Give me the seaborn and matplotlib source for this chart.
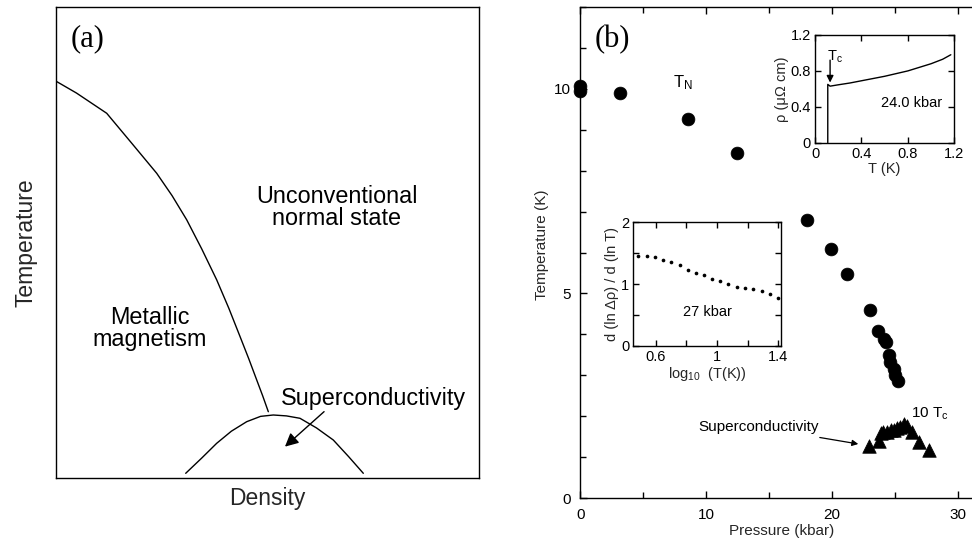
import matplotlib
matplotlib.use("Agg")
import matplotlib.pyplot as plt
from matplotlib.ticker import MultipleLocator
import numpy as np
import pandas as pd
import seaborn as sns

# ---------------- data ----------------
# (a) schematic phase diagram, normalised axes coordinates
mag_density = [0.0, 0.049, 0.1205, 0.180, 0.2386, 0.275, 0.3095, 0.345, 0.3803,
               0.409, 0.4354, 0.456, 0.4749, 0.489, 0.5023]
mag_temp = [0.8435, 0.818, 0.775, 0.711, 0.6476, 0.600, 0.5488, 0.487, 0.4214,
            0.361, 0.3011, 0.254, 0.2087, 0.175, 0.1414]
sc_density = [0.3071, 0.345, 0.3803, 0.415, 0.4512, 0.484, 0.514, 0.545, 0.5771,
              0.616, 0.6558, 0.692, 0.7267]
sc_temp = [0.0106, 0.043, 0.0743, 0.100, 0.1202, 0.1315, 0.1344, 0.1325, 0.1274,
           0.107, 0.0813, 0.046, 0.0106]

# (b) Neel temperature vs pressure
tn_pressure = [0.0, 0.0, 3.18, 8.6, 12.5, 18.0, 19.95, 21.2, 23.0, 23.7, 24.15,
               24.3, 24.55, 24.65, 24.9, 25.05, 25.25]
tn_temp = [10.08, 9.95, 9.89, 9.26, 8.44, 6.80, 6.08, 5.48, 4.59, 4.09, 3.89,
           3.81, 3.49, 3.33, 3.16, 3.00, 2.86]

# (b) 10 x superconducting Tc vs pressure
tc_pressure = [22.95, 23.75, 23.87, 24.1, 24.4, 24.66, 24.92, 25.2, 25.45, 25.7,
               25.97, 26.37, 26.9, 27.7]
tc10_temp = [1.28, 1.39, 1.58, 1.61, 1.62, 1.66, 1.66, 1.71, 1.74, 1.80, 1.76,
             1.62, 1.36, 1.17]

# inset: resistivity at 24.0 kbar
rho_T = [0.11, 0.11, 0.13, 0.2, 0.3, 0.4, 0.5, 0.6, 0.7, 0.8, 0.9, 1.0, 1.1, 1.17]
rho_val = [0.0, 0.65, 0.63, 0.645, 0.665, 0.69, 0.715, 0.74, 0.77, 0.80, 0.84,
           0.88, 0.93, 0.98]

# inset: logarithmic derivative at 27 kbar
log_T = [0.486, 0.545, 0.597, 0.650, 0.702, 0.755, 0.810, 0.860, 0.912, 0.969,
         1.022, 1.074, 1.129, 1.184, 1.238, 1.293, 1.345, 1.400]
dlog = [1.459, 1.454, 1.432, 1.389, 1.357, 1.303, 1.227, 1.183, 1.141, 1.076,
        1.044, 1.000, 0.956, 0.935, 0.914, 0.886, 0.833, 0.778]

# ---------------- style ----------------
sns.set_theme(style="ticks")
plt.rcParams["font.family"] = ["Liberation Sans", "DejaVu Sans"]
plt.rcParams["mathtext.fontset"] = "custom"
plt.rcParams["mathtext.rm"] = "Liberation Sans"
plt.rcParams["mathtext.it"] = "Liberation Sans:italic"
plt.rcParams["mathtext.default"] = "regular"
plt.rcParams["axes.edgecolor"] = "black"
plt.rcParams["axes.linewidth"] = 1.0
plt.rcParams["xtick.color"] = "black"
plt.rcParams["ytick.color"] = "black"
plt.rcParams["text.color"] = "black"

W, H = 972, 544
fig = plt.figure(figsize=(W / 100, H / 100), dpi=100)


def px_axes(left, top, right, bottom):
    return fig.add_axes([left / W, 1 - bottom / H, (right - left) / W, (bottom - top) / H])


# ---------------- panel (a) ----------------
ax_a = px_axes(55.7, 7.3, 479, 478.3)
mag_df = pd.DataFrame({"density": mag_density, "temperature": mag_temp})
sc_df = pd.DataFrame({"density": sc_density, "temperature": sc_temp})
sns.lineplot(data=mag_df, x="density", y="temperature", sort=False, estimator=None,
             color="black", lw=1.0, ax=ax_a)
sns.lineplot(data=sc_df, x="density", y="temperature", sort=False, estimator=None,
             color="black", lw=1.0, ax=ax_a)
ax_a.set_xlim(0, 1)
ax_a.set_ylim(0, 1)
ax_a.set_xticks([])
ax_a.set_yticks([])
ax_a.set_xlabel("Density", fontsize=16.5, labelpad=6)
ax_a.set_ylabel("Temperature", fontsize=16.5, labelpad=13)
ax_a.text(0.076, 0.933, "(a)", transform=ax_a.transAxes, fontsize=22,
          family="Liberation Serif", ha="center", va="center")
ax_a.text(0.664, 0.575, "Unconventional\nnormal state", transform=ax_a.transAxes,
          fontsize=16.8, ha="center", va="center", linespacing=0.95)
ax_a.text(0.223, 0.318, "Metallic\nmagnetism", transform=ax_a.transAxes,
          fontsize=16.8, ha="center", va="center", linespacing=0.95)
ax_a.text(0.75, 0.17, "Superconductivity", transform=ax_a.transAxes,
          fontsize=16.8, ha="center", va="center")
ax_a.annotate("", xy=(0.5416, 0.0672), xytext=(0.634, 0.1415),
              xycoords="axes fraction",
              arrowprops=dict(arrowstyle="-|>", color="black", lw=1.0,
                              mutation_scale=20, shrinkA=0, shrinkB=0))

# ---------------- panel (b) ----------------
px_per_kbar = (957.7 - 580.2) / 30.0
x_max = 32.0
ax_b = px_axes(580.2, 7, 580.2 + x_max * px_per_kbar, 498)
tn_df = pd.DataFrame({"pressure": tn_pressure, "temperature": tn_temp})
tc_df = pd.DataFrame({"pressure": tc_pressure, "temperature": tc10_temp})
sns.scatterplot(data=tn_df, x="pressure", y="temperature", marker="o", s=85,
                color="black", edgecolor="black", linewidth=0.5, clip_on=False,
                ax=ax_b, zorder=3)
sns.scatterplot(data=tc_df, x="pressure", y="temperature", marker="^", s=95,
                color="black", edgecolor="black", linewidth=0.5, clip_on=False,
                ax=ax_b, zorder=3)
ax_b.set_xlim(0, x_max)
ax_b.set_ylim(0, 12)
ax_b.xaxis.set_major_locator(MultipleLocator(10))
ax_b.xaxis.set_minor_locator(MultipleLocator(5))
ax_b.yaxis.set_major_locator(MultipleLocator(5))
ax_b.yaxis.set_minor_locator(MultipleLocator(1))
ax_b.tick_params(which="both", direction="in", top=True, right=False,
                 labelsize=11, width=1.0)
ax_b.tick_params(which="major", length=5, pad=7)
ax_b.tick_params(which="minor", length=4)
ax_b.spines["right"].set_visible(False)
ax_b.set_xlabel("Pressure (kbar)", fontsize=11, labelpad=2)
ax_b.set_ylabel("Temperature (K)", fontsize=11)
ax_b.yaxis.set_label_coords(-0.078, 0.515)
ax_b.text(2.55, 11.2, "(b)", fontsize=22, family="Liberation Serif",
          ha="center", va="center")
ax_b.text(8.2, 10.15, "T$_{N}$", fontsize=12, ha="center", va="center")
ax_b.text(27.8, 2.05, "10 T$_{c}$", fontsize=11, ha="center", va="center")
ax_b.annotate("Superconductivity", xy=(22.1, 1.32), xytext=(14.2, 1.73),
              fontsize=11, ha="center", va="center",
              arrowprops=dict(arrowstyle="-|>", color="black", lw=0.9,
                              mutation_scale=9, shrinkA=42, shrinkB=0))

# ---------------- inset: resistivity ----------------
ax_r = px_axes(815, 35, 954.3, 142.7)
rho_df = pd.DataFrame({"T": rho_T, "rho": rho_val})
sns.lineplot(data=rho_df, x="T", y="rho", sort=False, estimator=None,
             color="black", lw=1.0, ax=ax_r)
ax_r.set_xlim(0, 1.2)
ax_r.set_ylim(0, 1.2)
ax_r.set_xticks([0, 0.4, 0.8, 1.2])
ax_r.set_xticklabels(["0", "0.4", "0.8", "1.2"])
ax_r.set_yticks([0, 0.4, 0.8, 1.2])
ax_r.set_yticklabels(["0", "0.4", "0.8", "1.2"])
ax_r.tick_params(direction="in", top=True, right=True, length=4, pad=3,
                 labelsize=10.5, width=1.0)
ax_r.set_xlabel("T (K)", fontsize=10.5, labelpad=1)
ax_r.set_ylabel("ρ (μΩ cm)", fontsize=10.5, labelpad=1)
ax_r.text(0.833, 0.446, "24.0 kbar", fontsize=10.5, ha="center", va="center")
ax_r.text(0.17, 0.96, "T$_{c}$", fontsize=10.5, ha="center", va="center")
ax_r.annotate("", xy=(0.13, 0.67), xytext=(0.13, 0.92),
              arrowprops=dict(arrowstyle="-|>", color="black", lw=1.0,
                              mutation_scale=10, shrinkA=0, shrinkB=0))

# ---------------- inset: log derivative ----------------
ax_d = px_axes(633.3, 222.3, 781, 345.7)
dl_df = pd.DataFrame({"logT": log_T, "slope": dlog})
sns.scatterplot(data=dl_df, x="logT", y="slope", marker="o", s=7,
                color="black", edgecolor="black", linewidth=0, ax=ax_d,
                clip_on=False)
ax_d.set_xlim(0.453, 1.418)
ax_d.set_ylim(0, 2)
ax_d.set_xticks([0.6, 1.0, 1.4])
ax_d.set_xticklabels(["0.6", "1", "1.4"])
ax_d.xaxis.set_minor_locator(MultipleLocator(0.2))
ax_d.set_yticks([0, 1, 2])
ax_d.set_yticklabels(["0", "1", "2"])
ax_d.yaxis.set_minor_locator(MultipleLocator(0.5))
ax_d.tick_params(which="both", direction="in", top=True, right=True, length=4,
                 pad=3, labelsize=10.5, width=1.0)
ax_d.set_xlabel("log$_{10}$  (T(K))", fontsize=10.5, labelpad=1)
ax_d.set_ylabel("d (ln Δρ) / d (ln T)", fontsize=10.5, labelpad=1)
ax_d.text(0.94, 0.55, "27 kbar", fontsize=10.5, ha="center", va="center")

fig.savefig("out.png", dpi=100)
